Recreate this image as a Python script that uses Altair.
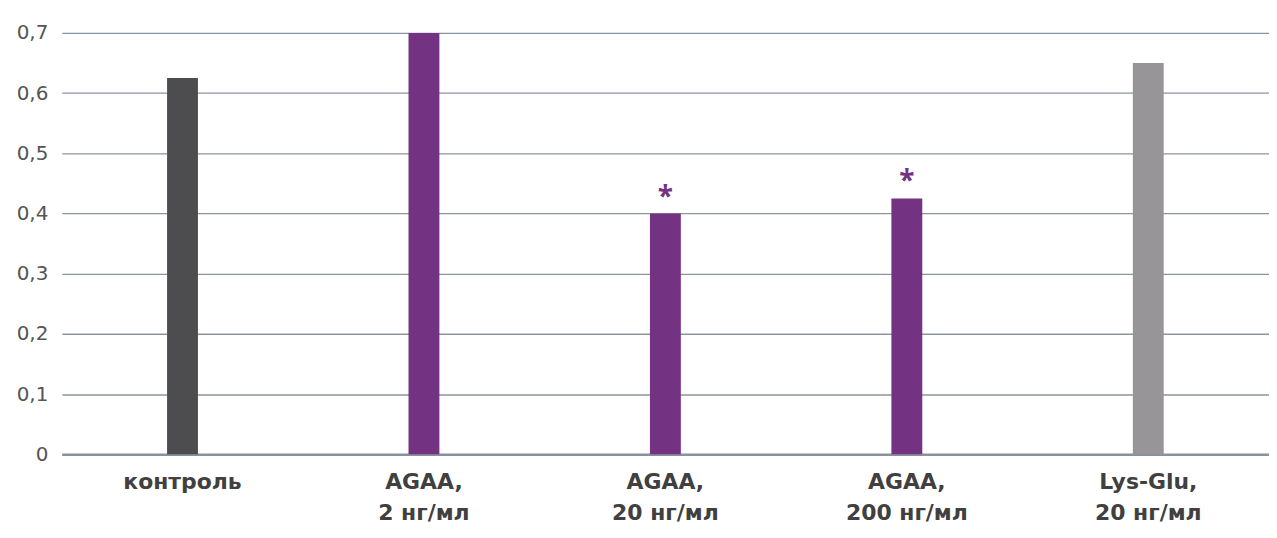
import altair as alt
import pandas as pd

categories = ["контроль", "AGAA,\n2 нг/мл", "AGAA,\n20 нг/мл", "AGAA,\n200 нг/мл", "Lys-Glu,\n20 нг/мл"]
values = [0.625, 0.70, 0.40, 0.425, 0.65]
colors = ["#4d4d4f", "#743282", "#743282", "#743282", "#979598"]
stars = ["", "", "*", "*", ""]

df = pd.DataFrame({"cat": categories, "value": values, "color": colors, "star": stars})

x = alt.X(
    "cat:N",
    sort=categories,
    title=None,
    scale=alt.Scale(paddingInner=0, paddingOuter=0),
    axis=alt.Axis(
        labelExpr="split(datum.label, '\\n')",
        labelAngle=0,
        labelFont="DejaVu Sans",
        labelFontWeight="bold",
        labelFontSize=22,
        labelColor="#404040",
        labelLineHeight=32,
        labelPadding=17,
        labelBaseline="top",
        ticks=False,
        domain=True,
        domainColor="#87939c",
        domainWidth=2.5,
        grid=False,
    ),
)

y = alt.Y(
    "value:Q",
    title=None,
    scale=alt.Scale(domain=[0, 0.7], nice=False),
    axis=alt.Axis(
        values=[0, 0.1, 0.2, 0.3, 0.4, 0.5, 0.6, 0.7],
        labelExpr="datum.value == 0 ? '0' : replace(format(datum.value, '.1f'), '.', ',')",
        labelFont="DejaVu Sans",
        labelFontSize=20,
        labelColor="#555555",
        labelPadding=14,
        ticks=False,
        domain=False,
        grid=True,
        gridColor="#8a969f",
        gridWidth=1.3,
        minExtent=54,
        maxExtent=54,
    ),
)

bars = alt.Chart(df).mark_bar(size=31).encode(
    x=x,
    y=y,
    color=alt.Color("color:N", scale=None, legend=None),
)

text = alt.Chart(df).transform_filter(
    "datum.star != ''"
).mark_text(
    font="Open Sans", fontWeight="bold", fontSize=28, color="#743282",
    baseline="alphabetic", dy=-8,
).encode(
    x=alt.X("cat:N", sort=categories),
    y=alt.Y("value:Q"),
    text="star:N",
)

chart = alt.layer(bars, text).properties(
    width=1212,
    height=423,
    padding={"left": 0, "top": 14, "right": 0, "bottom": 0},
).configure_view(stroke=None)

chart.save("out.html", embed_options={"renderer": "svg", "actions": False})
